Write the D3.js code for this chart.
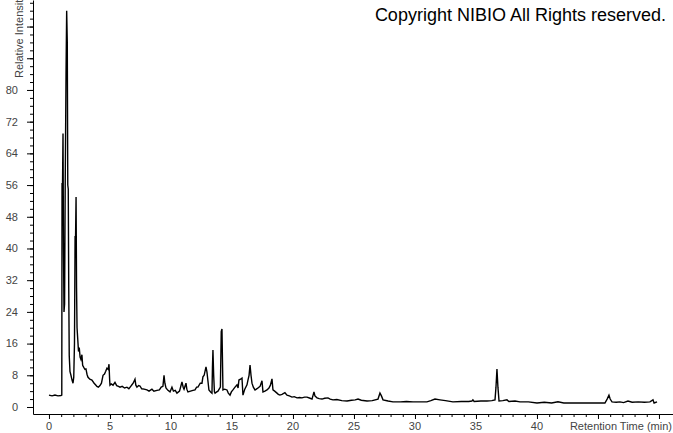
<!DOCTYPE html>
<html>
<head>
<meta charset="utf-8">
<script src="https://cdn.jsdelivr.net/npm/d3@7"></script>
<style>
  body { margin: 0; background: #fff; }
  svg { display: block; font-family: "Liberation Sans", Arial, sans-serif; }
</style>
</head>
<body>
<div id="chart"></div>
<script>
// retention time (min) and relative intensity (%)
const times = [
  0, 0.25, 0.49, 0.74, 0.98, 1.05, 1.07, 1.11, 1.15, 1.19, 1.23, 1.28, 1.33, 1.40, 1.45, 1.50,
  1.54, 1.58, 1.62, 1.66, 1.72, 1.80, 1.89, 1.97, 2.03, 2.09, 2.14, 2.18, 2.22, 2.26, 2.30, 2.36,
  2.42, 2.48, 2.55, 2.62, 2.70, 2.76, 2.85, 2.95, 3.03, 3.12, 3.20, 3.35, 3.52, 3.70, 3.85, 3.93,
  4.05, 4.18, 4.30, 4.43, 4.55, 4.65, 4.75, 4.85, 4.92, 4.97, 5.00, 5.10, 5.25, 5.41, 5.55, 5.70,
  5.82, 6.00, 6.20, 6.39, 6.55, 6.70, 6.80, 6.90, 7.05, 7.12, 7.21, 7.35, 7.46, 7.60, 7.80, 8.03,
  8.20, 8.44, 8.60, 8.85, 9.05, 9.20, 9.34, 9.43, 9.50, 9.59, 9.75, 9.92, 10.08, 10.20, 10.35, 10.49,
  10.70, 10.90, 11.00, 11.07, 11.23, 11.30, 11.39, 11.60, 11.80, 11.97, 12.10, 12.21, 12.40, 12.54, 12.62, 12.72,
  12.87, 12.95, 13.05, 13.11, 13.25, 13.36, 13.40, 13.44, 13.50, 13.56, 13.61, 13.75, 13.85, 14.05, 14.12, 14.18,
  14.22, 14.26, 14.40, 14.59, 14.70, 14.84, 14.95, 15.08, 15.25, 15.41, 15.50, 15.57, 15.70, 15.82, 15.90, 16.05,
  16.23, 16.31, 16.40, 16.48, 16.56, 16.64, 16.75, 16.89, 17.00, 17.13, 17.30, 17.46, 17.54, 17.70, 17.87, 18.03,
  18.15, 18.28, 18.36, 18.50, 18.69, 18.80, 18.93, 19.10, 19.34, 19.51, 19.70, 19.92, 20.10, 20.33, 20.55, 20.74,
  20.95, 21.15, 21.40, 21.56, 21.65, 21.72, 21.80, 21.97, 22.15, 22.38, 22.60, 22.87, 23.05, 23.28, 23.60, 24.00,
  24.43, 24.80, 25.10, 25.33, 25.60, 26.07, 26.50, 26.97, 27.13, 27.25, 27.38, 27.80, 28.20, 28.80, 29.30, 29.84,
  30.40, 30.98, 31.30, 31.64, 32.05, 32.50, 33.11, 33.80, 34.40, 34.67, 34.75, 34.85, 35.40, 35.90, 36.30, 36.56,
  36.64, 36.72, 36.80, 36.89, 37.20, 37.54, 37.70, 38.20, 38.61, 39.30, 40.00, 40.60, 41.20, 41.72, 42.20, 43.00,
  44.10, 44.80, 45.57, 45.75, 45.90, 46.00, 46.15, 46.50, 46.80, 47.10, 47.46, 47.80, 48.30, 48.80, 49.26, 49.51,
  49.60, 49.84
];
const intensity = [
  3.0, 2.8, 3.0, 2.8, 2.9, 3.0, 56.5, 56, 69, 40, 24, 26, 56, 85, 100, 92,
  56, 55, 30, 13, 9.0, 8.0, 6.8, 6.0, 7.5, 16, 43, 43, 53, 30, 20, 17,
  14, 15, 12.6, 12, 13.2, 10.5, 10, 9.5, 9.6, 8.2, 7.5, 7.0, 6.8, 6.0, 5.5, 5.2,
  5.0, 5.4, 6.0, 8.0, 8.3, 9.0, 9.8, 9.5, 10.8, 7, 5.5, 5.8, 5.5, 6.2, 5.4, 5.2,
  5.0, 5.2, 4.8, 5.0, 4.6, 5.2, 5.6, 6.0, 7.0, 5.5, 5.0, 5.4, 5.3, 4.6, 4.5, 4.3,
  4.0, 4.5, 4.0, 4.2, 4.3, 5.0, 5.2, 8.0, 6.0, 4.8, 4.2, 3.8, 5.0, 4.0, 4.2, 3.5,
  4.0, 6.3, 5.0, 4.5, 6.0, 4.5, 3.8, 4.0, 4.2, 4.3, 5.0, 5.0, 6.0, 6.0, 7.6, 8.0,
  10.1, 8.8, 6, 4.3, 3.8, 3.5, 10, 14.4, 8, 3.8, 3.5, 3.8, 4.0, 5, 19, 19.7,
  12, 4.3, 4.5, 4.3, 3.5, 3.0, 3.8, 4.3, 5.0, 5.6, 4.8, 6.8, 7.0, 7.3, 3.0, 4.5,
  5.6, 6.8, 8, 10.6, 8, 6.0, 5.0, 4.3, 4.5, 4.8, 5.2, 6.6, 3.8, 4.0, 4.3, 4.8,
  5.5, 7.1, 4.3, 4.0, 3.5, 3.2, 3.0, 3.2, 3.6, 3.0, 2.8, 2.5, 2.6, 2.3, 2.4, 2.3,
  2.5, 2.5, 2.2, 2.0, 3.0, 3.8, 2.8, 2.3, 2.1, 2.0, 2.2, 2.3, 2.0, 1.8, 1.9, 1.6,
  1.5, 1.7, 1.8, 2.0, 1.7, 1.5, 1.6, 2.0, 3.5, 2.8, 1.8, 1.5, 1.3, 1.3, 1.4, 1.3,
  1.3, 1.3, 1.6, 2.0, 1.8, 1.6, 1.3, 1.4, 1.4, 1.5, 1.8, 1.4, 1.5, 1.5, 1.6, 1.8,
  5, 9.6, 5, 1.5, 1.6, 1.8, 1.4, 1.5, 1.3, 1.3, 1.0, 1.2, 1.0, 1.3, 1.0, 1.0,
  1.0, 1.0, 1.0, 2.0, 3.0, 2.0, 1.3, 1.2, 1.3, 1.1, 1.5, 1.2, 1.3, 1.2, 1.3, 1.8,
  1.0, 1.3
];
const xLabels = [0, 5, 10, 15, 20, 25, 30, 35, 40];
const yLabels = [0, 8, 16, 24, 32, 40, 48, 56, 64, 72, 80];

const width = 673;
const height = 433;

const svg = d3.select("#chart")
  .append("svg")
  .attr("width", width)
  .attr("height", height);

// scales: 0 min sits at x=49, 50 min at x=659; 0% at y=407, 100% at y~11
const x = d3.scaleLinear().domain([-1.31, 51.15]).range([33, 673]);
const y = d3.scaleLinear().domain([-1.77, 102.7]).range([414, 0]);

// x axis
const xAxis = svg.append("g").attr("transform", "translate(0,414)");
xAxis.call(d3.axisBottom(x).tickValues(d3.range(0, 51, 1)).tickSize(3).tickSizeOuter(0).tickFormat(""));
xAxis.append("g").call(d3.axisBottom(x).tickValues(d3.range(0, 51, 5)).tickSize(5).tickSizeOuter(0).tickFormat(""))
  .select(".domain").remove();
xAxis.selectAll(".domain, line").attr("stroke", "#000");

svg.append("g").selectAll("text")
  .data(xLabels)
  .enter()
  .append("text")
  .attr("x", d => x(d))
  .attr("y", 430)
  .attr("text-anchor", "middle")
  .style("font-size", "11px")
  .attr("fill", "#444")
  .text(d => d);

svg.append("text")
  .attr("x", 672)
  .attr("y", 430)
  .attr("text-anchor", "end")
  .style("font-size", "11px")
  .attr("fill", "#444")
  .text("Retention Time (min)");

// y axis
const yAxis = svg.append("g").attr("transform", "translate(33,0)");
yAxis.call(d3.axisLeft(y).tickValues(d3.range(0, 103, 2)).tickSize(3).tickSizeOuter(0).tickFormat(""));
yAxis.append("g").call(d3.axisLeft(y).tickValues(d3.range(0, 103, 8)).tickSize(6).tickSizeOuter(0).tickFormat(""))
  .select(".domain").remove();
yAxis.selectAll(".domain, line").attr("stroke", "#000");

svg.append("g").selectAll("text")
  .data(yLabels)
  .enter()
  .append("text")
  .attr("x", 18)
  .attr("y", d => y(d))
  .attr("dy", "0.35em")
  .attr("text-anchor", "end")
  .style("font-size", "11px")
  .attr("fill", "#444")
  .text(d => d);

// rotated title, cut at the top edge as in the original
svg.append("text")
  .attr("transform", "translate(23,78) rotate(-90)")
  .attr("text-anchor", "start")
  .style("font-size", "11px")
  .attr("fill", "#444")
  .text("Relative Intensity");

// chromatogram trace
const line = d3.line()
  .x((d, i) => x(times[i]))
  .y(d => y(d));

svg.append("path")
  .datum(intensity)
  .attr("fill", "none")
  .attr("stroke", "#000")
  .attr("stroke-width", 1.4)
  .attr("d", line);

svg.append("text")
  .attr("x", 666)
  .attr("y", 21)
  .attr("text-anchor", "end")
  .style("font-size", "18px")
  .attr("fill", "#000")
  .text("Copyright NIBIO All Rights reserved.");
</script>
</body>
</html>
